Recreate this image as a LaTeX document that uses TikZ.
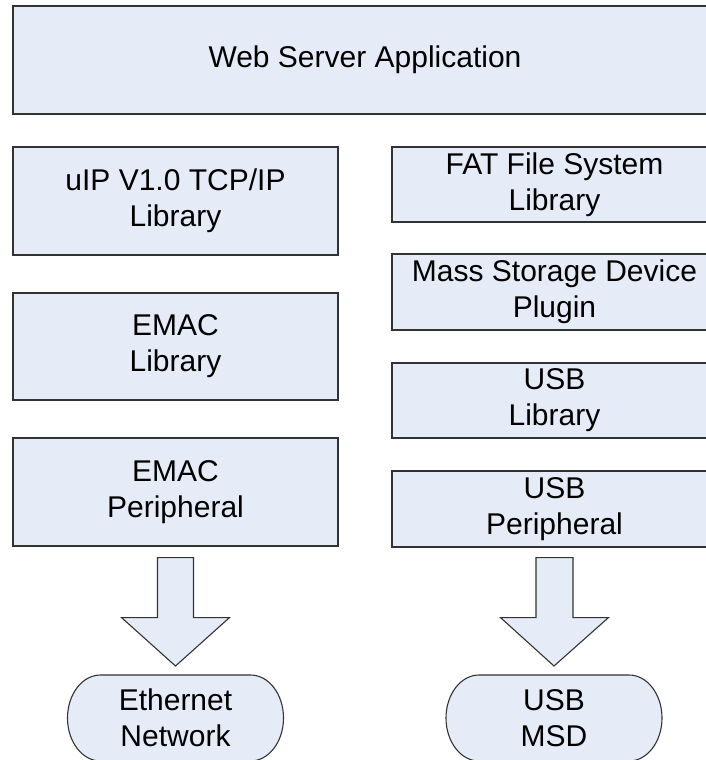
\documentclass[tikz,border=0pt]{standalone}
\usepackage{fontspec}
\setmainfont{Liberation Sans}
\usetikzlibrary{calc}
\definecolor{boxfill}{RGB}{230,236,247}
\definecolor{boxline}{RGB}{50,50,50}
\tikzset{
  blk/.style={draw=boxline, fill=boxfill, line width=1.1pt, rectangle, inner sep=0pt,
    align=center, font=\fontsize{30}{36}\selectfont},
  stadtext/.style={inner sep=0pt, align=center, font=\fontsize{30}{36}\selectfont},
  shapeline/.style={draw=boxline, fill=boxfill, line width=1.1pt, line join=miter},
}
\begin{document}
\begin{tikzpicture}[x=1pt,y=1pt]
\useasboundingbox (0,0) rectangle (706,-760);
\clip (0,0) rectangle (706,-760);
\fill[white] (0,0) rectangle (706,-760);
% top box
\node[blk, minimum width=704, minimum height=108] (web) at (365,-60) {Web Server Application};
% left column
\node[blk, minimum width=325, minimum height=108] (uip) at (175.5,-201) {uIP V1.0 TCP/IP\\Library};
\node[blk, minimum width=325, minimum height=107] (emaclib) at (175.5,-346.5) {EMAC\\Library};
\node[blk, minimum width=325, minimum height=108] (emacper) at (175.5,-492) {EMAC\\Peripheral};
% right column
\node[blk, minimum width=325, minimum height=75] (fat) at (554.5,-184.5) {FAT File System\\Library};
\node[blk, minimum width=325, minimum height=76] (msdp) at (554.5,-292) {Mass Storage Device\\Plugin};
\node[blk, minimum width=325, minimum height=75] (usblib) at (554.5,-400.5) {USB\\Library};
\node[blk, minimum width=325, minimum height=76] (usbper) at (554.5,-509) {USB\\Peripheral};
% terminals
\coordinate (ethc) at (175.5,-718);
\coordinate (usbc) at (554,-718);
\draw[shapeline] ($(ethc)+(-75,43)$) -- ($(ethc)+(75,43)$)
  arc[start angle=90, end angle=-90, x radius=33, y radius=43]
  -- ($(ethc)+(-75,-43)$)
  arc[start angle=270, end angle=90, x radius=33, y radius=43] -- cycle;
\draw[shapeline] ($(usbc)+(-75,43)$) -- ($(usbc)+(75,43)$)
  arc[start angle=90, end angle=-90, x radius=33, y radius=43]
  -- ($(usbc)+(-75,-43)$)
  arc[start angle=270, end angle=90, x radius=33, y radius=43] -- cycle;
\node[stadtext] (eth) at (ethc) {Ethernet\\Network};
\node[stadtext] (usbmsd) at (usbc) {USB\\MSD};
% block arrows
\coordinate (la) at ($(emacper.south)+(0,-11)$);
\coordinate (ltip) at ($(eth.center)+(0,52)$);
\draw[shapeline] ($(la)+(-18,0)$) -- ($(la)+(18,0)$) -- ($(la)+(18,-60)$) -- ($(la)+(54,-60)$)
  -- (ltip |- 0,-666) -- ($(la)+(-54,-60)$) -- ($(la)+(-18,-60)$) -- cycle;
\coordinate (ra) at ($(usbper.south)+(0,-10)$);
\draw[shapeline] ($(ra)+(-18.5,0)$) -- ($(ra)+(18.5,0)$) -- ($(ra)+(18.5,-60)$) -- ($(ra)+(54,-60)$)
  -- ($(usbmsd.center)+(0,52)$) -- ($(ra)+(-54,-60)$) -- ($(ra)+(-18.5,-60)$) -- cycle;
\end{tikzpicture}
\end{document}
